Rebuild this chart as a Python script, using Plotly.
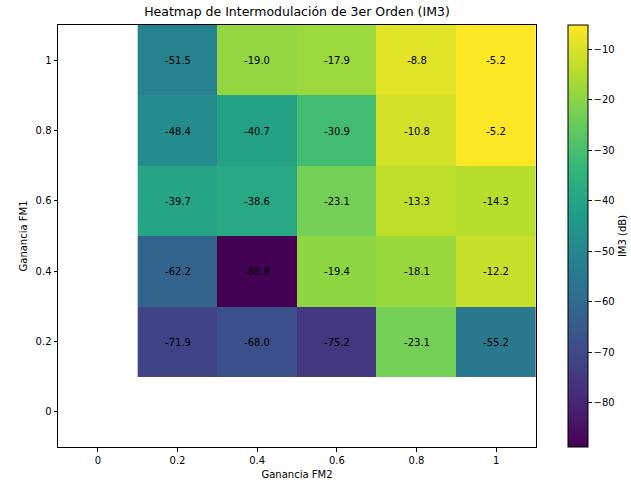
import plotly.graph_objects as go

x_vals = [0.2, 0.4, 0.6, 0.8, 1.0]
y_vals = [0.2, 0.4, 0.6, 0.8, 1.0]
im3 = [
    [-71.9, -68.0, -75.2, -23.1, -55.2],
    [-62.2, -88.8, -19.4, -18.1, -12.2],
    [-39.7, -38.6, -23.1, -13.3, -14.3],
    [-48.4, -40.7, -30.9, -10.8, -5.2],
    [-51.5, -19.0, -17.9, -8.8, -5.2],
]
tick_vals = [0, 0.2, 0.4, 0.6, 0.8, 1.0]
tick_text = ["0", "0.2", "0.4", "0.6", "0.8", "1"]
cbar_vals = [-10, -20, -30, -40, -50, -60, -70, -80]
cbar_text = ["−10", "−20", "−30", "−40", "−50", "−60", "−70", "−80"]

font = "DejaVu Sans"

fig = go.Figure(go.Heatmap(
    x=x_vals, y=y_vals, z=im3,
    colorscale="Viridis",
    zmin=min(min(r) for r in im3), zmax=max(max(r) for r in im3),
    texttemplate="%{z:.1f}",
    textfont=dict(family=font, size=10, color="black"),
    colorbar=dict(
        x=1.066, xanchor="left", xref="paper",
        y=0.5, yanchor="middle", len=1.0, lenmode="fraction",
        thickness=20, thicknessmode="pixels",
        xpad=0, ypad=0,
        outlinewidth=1, outlinecolor="black",
        tickvals=cbar_vals, ticktext=cbar_text,
        ticks="outside", ticklen=3.5, tickcolor="black",
        tickfont=dict(family=font, size=10, color="black"),
        title=dict(text="IM3 (dB)", side="right", font=dict(family=font, size=10, color="black")),
    ),
))

fig.update_layout(
    width=631, height=486,
    margin=dict(l=58, r=95, t=25, b=39, autoexpand=False),
    paper_bgcolor="white", plot_bgcolor="white",
    title=dict(text="Heatmap de Intermodulación de 3er Orden (IM3)",
               x=(58 + 536) / 2 / 631, xanchor="center", y=1 - 12 / 486, yanchor="middle",
               font=dict(family=font, size=12.5, color="black")),
    font=dict(family=font, size=10, color="black"),
)
fig.update_xaxes(
    range=[-0.1, 1.1], tickvals=tick_vals, ticktext=tick_text,
    ticks="outside", ticklen=3.5, tickcolor="black",
    tickfont=dict(family=font, size=10, color="black"),
    showline=True, linecolor="black", linewidth=1, mirror=True,
    showgrid=False, zeroline=False,
    title=dict(text="Ganancia FM2", font=dict(family=font, size=10, color="black"), standoff=6),
)
fig.update_yaxes(
    range=[-0.1, 1.1], tickvals=tick_vals, ticktext=tick_text,
    ticks="outside", ticklen=3.5, tickcolor="black",
    tickfont=dict(family=font, size=10, color="black"),
    showline=True, linecolor="black", linewidth=1, mirror=True,
    showgrid=False, zeroline=False,
    title=dict(text="Ganancia FM1", font=dict(family=font, size=10, color="black"), standoff=6),
)

fig.write_html("out.html", config={"displayModeBar": False},
               post_script="document.body.style.margin='0';")
